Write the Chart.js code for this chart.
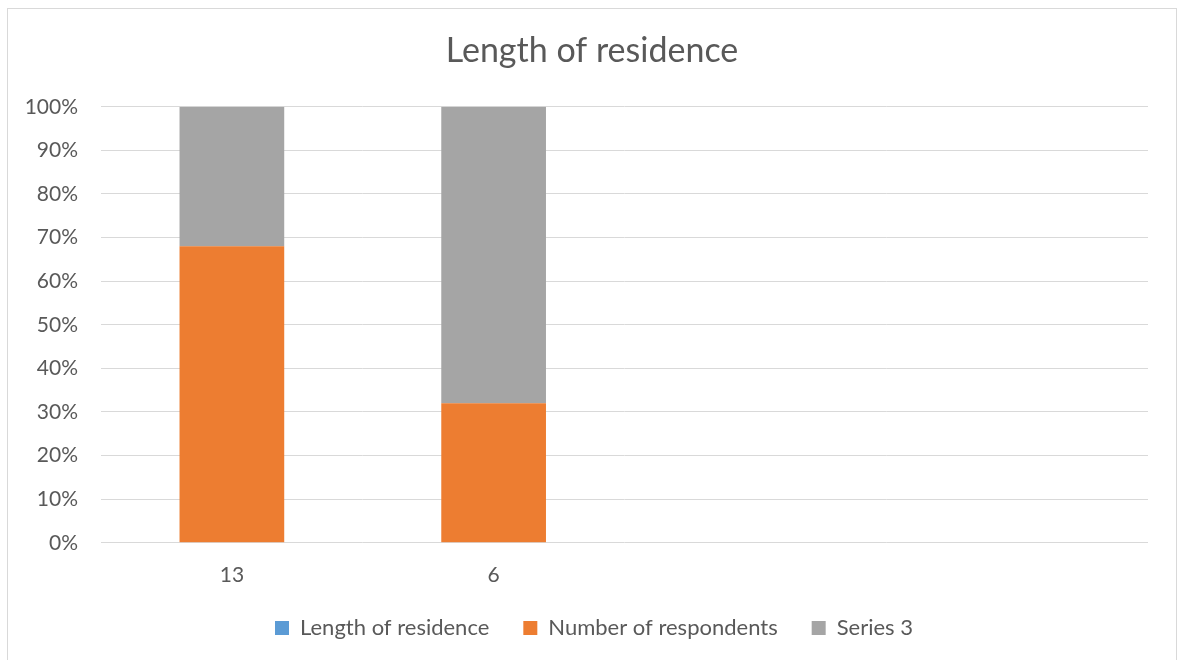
<!DOCTYPE html>
<html>
<head>
<meta charset="utf-8">
<title>Length of residence</title>
<script src="https://cdn.jsdelivr.net/npm/chart.js@4.4.1/dist/chart.umd.min.js"></script>
<style>
  html, body { margin: 0; padding: 0; background: #ffffff; overflow: hidden; }
  #frame {
    position: absolute; left: 7px; top: 8px;
    width: 1170px; height: 700px;
    border: 1px solid #d9d9d9; box-sizing: border-box;
  }
  #wrap { position: absolute; left: 0; top: 0; width: 1177px; height: 660px; }
</style>
</head>
<body>
<div id="frame"></div>
<div id="wrap"><canvas id="chart" width="1177" height="660"></canvas></div>
<script>
// Categories along the x axis (two blank slots keep the column spacing)
const categories = ['13', '6', '', ''];

// Series values, in percent of each column
const lengthOfResidence = [0, 0, 0, 0];
const numberOfRespondents = [68, 32];
const series3 = [32, 68];

const seriesNames = ['Length of residence', 'Number of respondents', 'Series 3'];
const seriesColors = ['#5b9bd5', '#ed7d31', '#a5a5a5'];

const TEXT = '#595959';
const GRID = '#d9d9d9';
const FONT = 'Lato';

// Keeps the legend band short while its items stay widely spaced,
// and centres the title and legend on the whole chart frame.
const frameLayout = {
  id: 'frameLayout',
  beforeLayout(chart) {
    const lg = chart.legend;
    if (lg && !lg._bandPatched) {
      const fit = lg.fit;
      lg.fit = function () { fit.call(this); this.height = 52; };
      lg._bandPatched = true;
    }
  },
  afterLayout(chart) {
    const t = chart.titleBlock;
    if (t) { t.left += 18; t.right += 18; }
    const lg = chart.legend;
    if (lg) { lg.left += 20; lg.right += 20; lg.top -= 25; }
  }
};

new Chart(document.getElementById('chart'), {
  type: 'bar',
  data: {
    labels: categories,
    datasets: [
      { label: seriesNames[0], data: lengthOfResidence, backgroundColor: seriesColors[0] },
      { label: seriesNames[1], data: numberOfRespondents, backgroundColor: seriesColors[1] },
      { label: seriesNames[2], data: series3, backgroundColor: seriesColors[2] }
    ]
  },
  options: {
    responsive: false,
    animation: false,
    layout: { padding: { left: 0, right: 29, top: 0, bottom: 0 } },
    datasets: {
      bar: { categoryPercentage: 1, barPercentage: 0.4, borderWidth: 0 }
    },
    scales: {
      x: {
        stacked: true,
        grid: { display: false, drawTicks: false },
        border: { display: false },
        ticks: { color: TEXT, font: { family: FONT, size: 21, lineHeight: 1.2 }, padding: 20, maxRotation: 0 }
      },
      y: {
        stacked: true,
        min: 0, max: 100,
        grid: { color: GRID, lineWidth: 1, drawTicks: false },
        border: { display: false },
        ticks: {
          stepSize: 10, color: TEXT, padding: 23,
          font: { family: FONT, size: 21 },
          callback: v => v + '%'
        },
        afterFit(scale) { scale.width = 101; }
      }
    },
    plugins: {
      title: {
        display: true,
        text: 'Length of residence',
        color: TEXT,
        font: { family: FONT, size: 34, weight: 'normal', lineHeight: 1.2 },
        padding: { top: 31, bottom: 35 }
      },
      legend: {
        position: 'bottom',
        labels: {
          color: TEXT,
          font: { family: FONT, size: 22 },
          boxWidth: 14, boxHeight: 14,
          padding: 34
        }
      },
      tooltip: { enabled: false }
    }
  },
  plugins: [frameLayout]
});
</script>
</body>
</html>
